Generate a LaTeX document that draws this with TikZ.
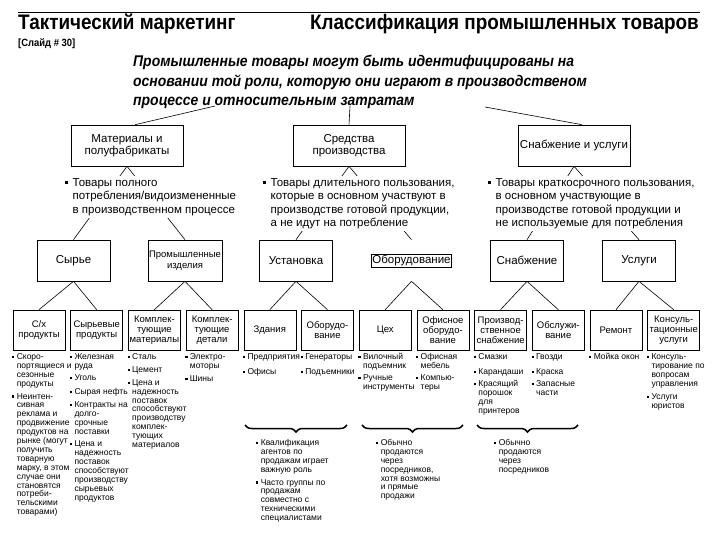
\documentclass[tikz,border=0pt]{standalone}
\usepackage{fontspec}
\setmainfont{Liberation Sans}
\newfontfamily\nar[FakeStretch=0.9]{Liberation Sans}
\usetikzlibrary{decorations.pathreplacing}
\newcommand{\bul}{\rule[0.3ex]{2.2pt}{2.2pt}}
\newcommand{\bulb}{\rule[0.3ex]{3pt}{3pt}}
\newenvironment{lstc}{\begin{tabular}{@{}p{4.6pt}@{}l@{}}}{\end{tabular}}
\newenvironment{lstb}{\begin{tabular}{@{}p{8pt}@{}l@{}}}{\end{tabular}}
\begin{document}
\begin{tikzpicture}[x=1pt,y=-1pt,
  box1/.style={draw, line width=0.6pt, minimum width=112pt, minimum height=41pt, align=center, inner sep=1pt, font=\fontsize{11.5}{12.5}\selectfont},
  box2/.style={draw, line width=0.6pt, minimum width=73pt, minimum height=41pt, align=center, inner sep=1pt, font=\fontsize{11.5}{13}\selectfont},
  box3/.style={draw, line width=0.6pt, minimum width=52pt, minimum height=40pt, align=center, inner sep=0.5pt, font=\fontsize{9.5}{10}\selectfont},
  bl1/.style={anchor=north west, fill=white, inner sep=0.5pt, font=\fontsize{11.5}{13.5}\selectfont},
  bl3/.style={anchor=north west, inner sep=0pt, font=\fontsize{8.5}{8.9}\selectfont},
  link/.style={line width=0.6pt},
  brc/.style={line width=1.5pt, decorate, decoration={brace, mirror, amplitude=7pt}},
  ttl/.style={inner sep=0pt, font=\nar\bfseries\fontsize{21}{24}\selectfont},
  sub/.style={inner sep=0pt, anchor=base west, font=\nar\bfseries\itshape\fontsize{15.5}{20}\selectfont}]
\useasboundingbox (0,0) rectangle (720,540);
\fill[white] (0,0) rectangle (720,540);

% header
\coordinate (hl) at (18,13);
\coordinate (hr) at (700,13);
\draw[line width=1pt] (hl) -- (hr);
\node[ttl, anchor=base west] (t1) at (18,30) {Тактический маркетинг};
\node[ttl, anchor=base east] (t2) at (699,30) {Классификация промышленных товаров};
\node[inner sep=0pt, anchor=base west, font=\nar\bfseries\fontsize{10.5}{12}\selectfont] (sl) at (18,47) {[Слайд \# 30]};
\node[sub] (s1) at (133,67) {Промышленные товары могут быть идентифицированы на};
\node[sub] (s2) at (133,87) {основании той роли, которую они играют в производственом};
\node[sub] (s3) at (133,106) {процессе и относительным затратам};

% level 1
\node[box1] (A) at (127,145.5) {Материалы и\\полуфабрикаты};
\node[box1] (B) at (349,145.5) {Средства\\производства};
\node[box1] (C) at (574,145.5) {Снабжение и услуги};
\coordinate (r1) at (215,106);
\coordinate (r2) at (350,106);
\coordinate (r3) at (485,107);
\draw[link] (r1) -- ([xshift=8pt]A.north);
\draw[link] (r2) -- (B.north);
\draw[link] (r3) -- ([xshift=8pt]C.north);

% level 2
\node[box2] (syr) at (73.5,260.5) {Сырье};
\node[box2, font=\fontsize{9.5}{11}\selectfont] (prom) at (185,260.5) {Промышленные\\изделия};
\node[box2] (ust) at (296,260.5) {Установка};
\node[box2, draw=none] (ob) at (411.5,260.5) {};
\node[draw, line width=0.6pt, inner sep=1pt, font=\fontsize{11.5}{13}\selectfont] (obt) at (ob.center) {Оборудование};
\node[box2] (snab) at (527,260.5) {Снабжение};
\node[box2] (usl) at (639,260.5) {Услуги};

\draw[link] (A.south) -- (syr.north);
\draw[link] (A.south) -- (prom.north);
\draw[link] (B.south) -- (ust.north);
\draw[link] (B.south) -- (ob.north);
\draw[link] (C.south) -- (snab.north);
\draw[link] (C.south) -- (usl.north);

% level 3
\node[box3] (k1) at (39,330) {С/х\\продукты};
\node[box3] (k2) at (96.7,330) {Сырьевые\\продукты};
\node[box3] (k3) at (154.4,330) {Комплек-\\тующие\\материалы};
\node[box3] (k4) at (212.1,330) {Комплек-\\тующие\\детали};
\node[box3] (k5) at (269.8,330) {Здания};
\node[box3] (k6) at (327.5,330) {Оборудо-\\вание};
\node[box3] (k7) at (385.2,330) {Цех};
\node[box3] (k8) at (442.9,330) {Офисное\\оборудо-\\вание};
\node[box3] (k9) at (500.6,330) {Производ-\\ственное\\снабжение};
\node[box3] (k10) at (558.3,330) {Обслужи-\\вание};
\node[box3] (k11) at (616,330) {Ремонт};
\node[box3] (k12) at (673.7,330) {Консуль-\\тационные\\услуги};

\draw[link] (syr.south) -- (k1.north);
\draw[link] (syr.south) -- (k2.north);
\draw[link] (prom.south) -- (k3.north);
\draw[link] (prom.south) -- (k4.north);
\draw[link] (ust.south) -- (k5.north);
\draw[link] (ust.south) -- (k6.north);
\draw[link] (ob.south) -- (k7.north);
\draw[link] (ob.south) -- (k8.north);
\draw[link] (snab.south) -- (k9.north);
\draw[link] (snab.south) -- (k10.north);
\draw[link] (usl.south) -- (k11.north);
\draw[link] (usl.south) -- (k12.north);

% level 1 bullets (white, over the links)
\node[bl1] (pa) at (64,176) {\begin{lstb}
\bulb & Товары полного\\ & потребления/видоизмененные\\ & в производственном процессе
\end{lstb}};
\node[bl1] (pb) at (262,176) {\begin{lstb}
\bulb & Товары длительного пользования,\\ & которые в основном участвуют в\\ & производстве готовой продукции,\\ & а не идут на потребление
\end{lstb}};
\node[bl1] (pc) at (487,176) {\begin{lstb}
\bulb & Товары краткосрочного пользования,\\ & в основном участвующие в\\ & производстве готовой продукции и\\ & не используемые для потребления
\end{lstb}};

% level 3 bullets
\node[bl3] (c1) at (12,353) {\begin{lstc}
\bul & Скоро-\\ & портящиеся и\\ & сезонные\\ & продукты\\[4pt]
\bul & Неинтен-\\ & сивная\\ & реклама и\\ & продвижение\\ & продуктов на\\ & рынке (могут\\ & получить\\ & товарную\\ & марку, в этом\\ & случае они\\ & становятся\\ & потреби-\\ & тельскими\\ & товарами)
\end{lstc}};
\node[bl3] (c2) at (69.7,353) {\begin{lstc}
\bul & Железная\\ & руда\\[3.5pt]
\bul & Уголь\\[5pt]
\bul & Сырая нефть\\[4pt]
\bul & Контракты на\\ & долго-\\ & срочные\\ & поставки\\[3.5pt]
\bul & Цена и\\ & надежность\\ & поставок\\ & способствуют\\ & производству\\ & сырьевых\\ & продуктов
\end{lstc}};
\node[bl3] (c3) at (127.4,353) {\begin{lstc}
\bul & Сталь\\[4pt]
\bul & Цемент\\[4pt]
\bul & Цена и\\ & надежность\\ & поставок\\ & способствуют\\ & производству\\ & комплек-\\ & тующих\\ & материалов
\end{lstc}};
\node[bl3] (c4) at (185.1,353) {\begin{lstc}
\bul & Электро-\\ & моторы\\[4.5pt]
\bul & Шины
\end{lstc}};
\node[bl3] (c5) at (242.8,353) {\begin{lstc}
\bul & Предприятия\\[6.5pt]
\bul & Офисы
\end{lstc}};
\node[bl3] (c6) at (300.5,353) {\begin{lstc}
\bul & Генераторы\\[6.5pt]
\bul & Подъемники
\end{lstc}};
\node[bl3] (c7) at (358.2,353) {\begin{lstc}
\bul & Вилочный\\ & подъемник\\[3pt]
\bul & Ручные\\ & инструменты
\end{lstc}};
\node[bl3] (c8) at (415.9,353) {\begin{lstc}
\bul & Офисная\\ & мебель\\[3pt]
\bul & Компью-\\ & теры
\end{lstc}};
\node[bl3] (c9) at (473.6,353) {\begin{lstc}
\bul & Смазки\\[6.5pt]
\bul & Карандаши\\[3pt]
\bul & Красящий\\ & порошок\\ & для\\ & принтеров
\end{lstc}};
\node[bl3] (c10) at (531.3,353) {\begin{lstc}
\bul & Гвозди\\[6.5pt]
\bul & Краска\\[3pt]
\bul & Запасные\\ & части
\end{lstc}};
\node[bl3] (c11) at (589,353) {\begin{lstc}
\bul & Мойка окон
\end{lstc}};
\node[bl3] (c12) at (646.7,353) {\begin{lstc}
\bul & Консуль-\\ & тирование по\\ & вопросам\\ & управления\\[4.5pt]
\bul & Услуги\\ & юристов
\end{lstc}};

% braces
\coordinate (g1a) at (245,425); \coordinate (g1b) at (347,425);
\coordinate (g2a) at (362,425); \coordinate (g2b) at (463,425);
\coordinate (g3a) at (477,425); \coordinate (g3b) at (578,425);
\draw[brc] (g1a) -- (g1b);
\draw[brc] (g2a) -- (g2b);
\draw[brc] (g3a) -- (g3b);

\node[bl3] (d1) at (256,439) {\begin{lstc}
\bul & Квалификация\\ & агентов по\\ & продажам играет\\ & важную роль\\[4pt]
\bul & Часто группы по\\ & продажам\\ & совместно с\\ & техническими\\ & специалистами
\end{lstc}};
\node[bl3] (d2) at (376,439) {\begin{lstc}
\bul & Обычно\\ & продаются\\ & через\\ & посредников,\\ & хотя возможны\\ & и прямые\\ & продажи
\end{lstc}};
\node[bl3] (d3) at (494,439) {\begin{lstc}
\bul & Обычно\\ & продаются\\ & через\\ & посредников
\end{lstc}};
\end{tikzpicture}
\end{document}
